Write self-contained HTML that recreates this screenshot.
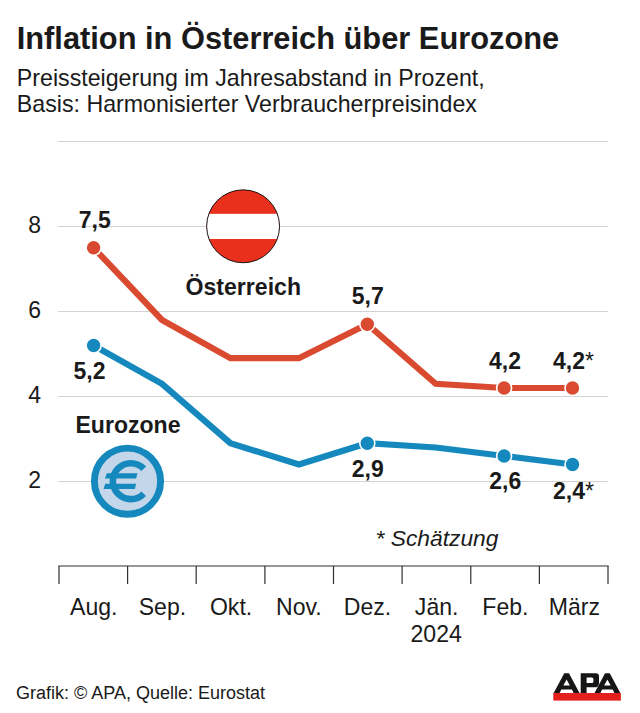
<!DOCTYPE html>
<html><head><meta charset="utf-8"><title>Inflation</title>
<style>
html,body{margin:0;padding:0;background:#fff;}
body{width:640px;height:713px;overflow:hidden;font-family:"Liberation Sans",sans-serif;}
svg{display:block;font-family:"Liberation Sans",sans-serif;}
text{fill:#1a1a1a;}
</style></head><body>
<svg width="640" height="713" viewBox="0 0 640 713">
<rect width="640" height="713" fill="#fff"/>
<text transform="translate(16.70 48.80) scale(1.0 1.0)" font-size="30.8" text-anchor="start" font-weight="bold" font-style="normal">Inflation in Österreich über Eurozone</text>

<text transform="translate(16.80 86.30) scale(1.0 1.0)" font-size="23.2" text-anchor="start" font-weight="normal" font-style="normal">Preissteigerung im Jahresabstand in Prozent,</text>

<text transform="translate(16.80 111.70) scale(1.0 1.0)" font-size="23.2" text-anchor="start" font-weight="normal" font-style="normal">Basis: Harmonisierter Verbraucherpreisindex</text>

<line x1="58" x2="608" y1="141.5" y2="141.5" stroke="#d2d2d2" stroke-width="1.1"/>
<line x1="58" x2="608" y1="226.5" y2="226.5" stroke="#d2d2d2" stroke-width="1.1"/>
<line x1="58" x2="608" y1="311.5" y2="311.5" stroke="#d2d2d2" stroke-width="1.1"/>
<line x1="58" x2="608" y1="396.5" y2="396.5" stroke="#d2d2d2" stroke-width="1.1"/>
<line x1="58" x2="608" y1="481.5" y2="481.5" stroke="#d2d2d2" stroke-width="1.1"/>

<text transform="translate(34.60 232.60) scale(1.0 1.0)" font-size="23.0" text-anchor="middle" font-weight="normal" font-style="normal">8</text>
<text transform="translate(34.60 317.60) scale(1.0 1.0)" font-size="23.0" text-anchor="middle" font-weight="normal" font-style="normal">6</text>
<text transform="translate(34.60 402.60) scale(1.0 1.0)" font-size="23.0" text-anchor="middle" font-weight="normal" font-style="normal">4</text>
<text transform="translate(34.60 487.60) scale(1.0 1.0)" font-size="23.0" text-anchor="middle" font-weight="normal" font-style="normal">2</text>

<!-- flag -->
<defs><clipPath id="fc"><circle cx="243.1" cy="226.3" r="36.45"/></clipPath></defs>
<g clip-path="url(#fc)">
<rect x="200" y="185" width="90" height="85" fill="#e8301c"/>
<rect x="200" y="213.8" width="90" height="25.2" fill="#fff"/>
</g>
<circle cx="243.1" cy="226.3" r="36.45" fill="none" stroke="#1a1412" stroke-width="1"/>
<text transform="translate(185.50 295.00) scale(1.0 1.0)" font-size="23.1" text-anchor="start" font-weight="bold" font-style="normal">Österreich</text>

<!-- euro -->
<circle cx="127.5" cy="481.2" r="33.1" fill="#c4d6e9" stroke="#1589bd" stroke-width="6.9"/>
<path d="M143.71,468.73 A17.95,17.95 0 1 0 143.71,493.67" fill="none" stroke="#1589bd" stroke-width="6.6"/>
<path d="M106.9,473.2 L137.5,473.2 L136.1,478.5 L104.9,478.5 Z" fill="#1589bd"/>
<path d="M105.2,483.8 L136.1,483.8 L134.8,488.9 L103.6,488.9 Z" fill="#1589bd"/>
<text transform="translate(75.50 433.30) scale(1.0 1.0)" font-size="23.05" text-anchor="start" font-weight="bold" font-style="normal">Eurozone</text>

<!-- lines -->
<polyline points="93.6,247.8 162.0,320.0 230.4,358.2 298.9,358.2 367.3,324.2 435.7,383.8 504.1,388.0 572.5,388.0" fill="none" stroke="#d94a30" stroke-width="6.2" stroke-linejoin="miter"/>
<polyline points="93.6,345.5 162.0,383.8 230.4,443.2 298.9,464.5 367.3,443.2 435.7,447.5 504.1,456.0 572.5,464.5" fill="none" stroke="#1589bd" stroke-width="6.2" stroke-linejoin="miter"/>
<circle cx="93.6" cy="247.8" r="7.5" fill="#d94a30" stroke="#fff" stroke-width="1.6"/>
<circle cx="367.3" cy="324.2" r="7.5" fill="#d94a30" stroke="#fff" stroke-width="1.6"/>
<circle cx="504.1" cy="388.0" r="7.5" fill="#d94a30" stroke="#fff" stroke-width="1.6"/>
<circle cx="572.5" cy="388.0" r="7.5" fill="#d94a30" stroke="#fff" stroke-width="1.6"/>

<circle cx="93.6" cy="345.5" r="7.5" fill="#1589bd" stroke="#fff" stroke-width="1.6"/>
<circle cx="367.3" cy="443.2" r="7.5" fill="#1589bd" stroke="#fff" stroke-width="1.6"/>
<circle cx="504.1" cy="456.0" r="7.5" fill="#1589bd" stroke="#fff" stroke-width="1.6"/>
<circle cx="572.5" cy="464.5" r="7.5" fill="#1589bd" stroke="#fff" stroke-width="1.6"/>

<text transform="translate(94.80 228.00) scale(1.0 1.0)" font-size="23.0" text-anchor="middle" font-weight="bold" font-style="normal">7,5</text>

<text transform="translate(89.50 379.00) scale(1.0 1.0)" font-size="23.0" text-anchor="middle" font-weight="bold" font-style="normal">5,2</text>

<text transform="translate(367.70 303.70) scale(1.0 1.0)" font-size="23.0" text-anchor="middle" font-weight="bold" font-style="normal">5,7</text>

<text transform="translate(367.80 477.30) scale(1.0 1.0)" font-size="23.0" text-anchor="middle" font-weight="bold" font-style="normal">2,9</text>

<text transform="translate(505.00 369.20) scale(1.0 1.0)" font-size="23.0" text-anchor="middle" font-weight="bold" font-style="normal">4,2</text>

<text transform="translate(553.00 369.20) scale(1.0 1.0)" font-size="23.0" text-anchor="start" font-weight="bold" font-style="normal">4,2<tspan font-weight="normal">*</tspan></text>

<text transform="translate(505.30 488.50) scale(1.0 1.0)" font-size="23.0" text-anchor="middle" font-weight="bold" font-style="normal">2,6</text>

<text transform="translate(553.00 498.60) scale(1.0 1.0)" font-size="23.0" text-anchor="start" font-weight="bold" font-style="normal">2,4<tspan font-weight="normal">*</tspan></text>

<text transform="translate(375.50 546.00) scale(1.0 1.0)" font-size="22.8" text-anchor="start" font-weight="normal" font-style="italic">* Schätzung</text>

<!-- axis -->
<line x1="58.4" x2="608.6" y1="566" y2="566" stroke="#303030" stroke-width="1.2"/>
<line x1="59.0" x2="59.0" y1="566" y2="584" stroke="#303030" stroke-width="1.2"/>
<line x1="127.6" x2="127.6" y1="566" y2="584" stroke="#303030" stroke-width="1.2"/>
<line x1="196.2" x2="196.2" y1="566" y2="584" stroke="#303030" stroke-width="1.2"/>
<line x1="264.9" x2="264.9" y1="566" y2="584" stroke="#303030" stroke-width="1.2"/>
<line x1="333.5" x2="333.5" y1="566" y2="584" stroke="#303030" stroke-width="1.2"/>
<line x1="402.1" x2="402.1" y1="566" y2="584" stroke="#303030" stroke-width="1.2"/>
<line x1="470.8" x2="470.8" y1="566" y2="584" stroke="#303030" stroke-width="1.2"/>
<line x1="539.4" x2="539.4" y1="566" y2="584" stroke="#303030" stroke-width="1.2"/>
<line x1="608.0" x2="608.0" y1="566" y2="584" stroke="#303030" stroke-width="1.2"/>

<text transform="translate(93.81 614.50) scale(1.0 1.0)" font-size="23.05" text-anchor="middle" font-weight="normal" font-style="normal">Aug.</text>
<text transform="translate(162.44 614.50) scale(1.0 1.0)" font-size="23.05" text-anchor="middle" font-weight="normal" font-style="normal">Sep.</text>
<text transform="translate(231.06 614.50) scale(1.0 1.0)" font-size="23.05" text-anchor="middle" font-weight="normal" font-style="normal">Okt.</text>
<text transform="translate(298.89 614.50) scale(1.0 1.0)" font-size="23.05" text-anchor="middle" font-weight="normal" font-style="normal">Nov.</text>
<text transform="translate(367.51 614.50) scale(1.0 1.0)" font-size="23.05" text-anchor="middle" font-weight="normal" font-style="normal">Dez.</text>
<text transform="translate(436.64 614.50) scale(1.0 1.0)" font-size="23.05" text-anchor="middle" font-weight="normal" font-style="normal">Jän.</text>
<text transform="translate(505.36 614.50) scale(1.0 1.0)" font-size="23.05" text-anchor="middle" font-weight="normal" font-style="normal">Feb.</text>
<text transform="translate(574.39 614.50) scale(1.0 1.0)" font-size="23.05" text-anchor="middle" font-weight="normal" font-style="normal">März</text>

<text transform="translate(436.14 641.80) scale(1.0 1.0)" font-size="23.05" text-anchor="middle" font-weight="normal" font-style="normal">2024</text>

<text transform="translate(16.00 698.50) scale(1.0 1.0)" font-size="18.0" text-anchor="start" font-weight="normal" font-style="normal">Grafik: © APA, Quelle: Eurostat</text>

<!-- APA logo -->
<g id="apa"><path d="M553.70,693.0 L564.25,673.3 L568.95,673.3 L579.50,693.0 Z M566.60,679.56 L563.36,685.6 L569.84,685.6 Z M561.27,689.5 L559.40,693.5 L573.80,693.5 L571.93,689.5 Z" fill="#161616" fill-rule="evenodd"/><path d="M580.7,693.5 L580.7,673.3 L595.8,673.3 Q599.0,673.3 599.0,676.5 L599.0,684.1 Q599.0,687.3 595.8,687.3 L586.6,687.3 L586.6,693.5 Z M586.6,677.4 L591.9,677.4 Q593.4,677.4 593.4,678.9 L593.4,681.5 Q593.4,683.0 591.9,683.0 L586.6,683.0 Z" fill="#161616" fill-rule="evenodd"/><path d="M594.50,693.0 L605.05,673.3 L609.75,673.3 L620.30,693.0 Z M607.40,679.56 L604.16,685.6 L610.64,685.6 Z M602.07,689.5 L600.20,693.5 L614.60,693.5 L612.73,689.5 Z" fill="#161616" fill-rule="evenodd" stroke="#fff" stroke-width="0.6" paint-order="stroke"/><rect x="553.3" y="693.0" width="67.6" height="7.6" fill="#e3201b"/></g>
</svg>
</body></html>
